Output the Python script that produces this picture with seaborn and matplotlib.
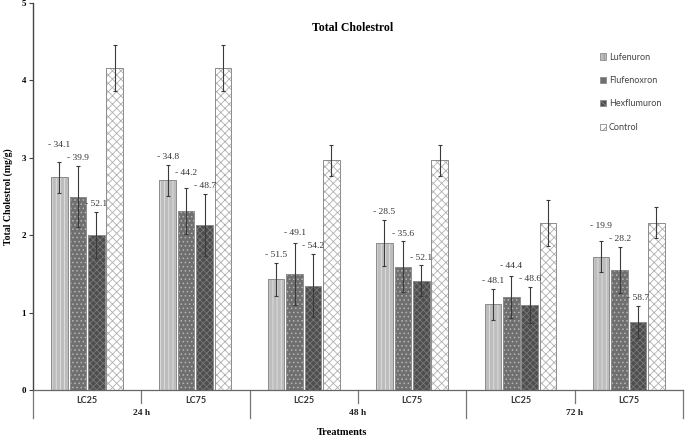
import matplotlib
matplotlib.use('Agg')
import matplotlib.pyplot as plt
import pandas as pd
import seaborn as sns
from matplotlib.patches import Rectangle

# Data
times = ['24 h', '24 h', '48 h', '48 h', '72 h', '72 h']
concs = ['LC25', 'LC75', 'LC25', 'LC75', 'LC25', 'LC75']
treatments = ['Lufenuron', 'Flufenoxron', 'Hexflumuron', 'Control']

lufenuron = [2.75, 2.71, 1.43, 1.90, 1.11, 1.72]
lufenuron_err = [0.20, 0.20, 0.21, 0.30, 0.20, 0.20]
flufenoxron = [2.50, 2.31, 1.50, 1.59, 1.20, 1.55]
flufenoxron_err = [0.40, 0.30, 0.40, 0.33, 0.27, 0.30]
hexflumuron = [2.00, 2.13, 1.35, 1.41, 1.10, 0.88]
hexflumuron_err = [0.30, 0.40, 0.41, 0.20, 0.23, 0.21]
control = [4.16, 4.16, 2.97, 2.97, 2.16, 2.16]
control_err = [0.30, 0.30, 0.20, 0.20, 0.30, 0.20]

# percent change vs control
lufenuron_change = [-34.1, -34.8, -51.5, -28.5, -48.1, -19.9]
flufenoxron_change = [-39.9, -44.2, -49.1, -35.6, -44.4, -28.2]
hexflumuron_change = [-52.1, -48.7, -54.2, -52.1, -48.6, -58.7]

groups = [t + ' ' + c for t, c in zip(times, concs)]
values = [lufenuron, flufenoxron, hexflumuron, control]
errors = [lufenuron_err, flufenoxron_err, hexflumuron_err, control_err]
changes = [lufenuron_change, flufenoxron_change, hexflumuron_change]

rows = []
for name, vals in zip(treatments, values):
    for g, v in zip(groups, vals):
        rows.append({'group': g, 'treatment': name, 'value': v})
df = pd.DataFrame(rows)

# face colour, hatch, hatch colour
styles = {
    'Lufenuron': ('#bdbdbd', '||||', '#e2e2e2'),
    'Flufenoxron': ('#6f6f6f', '....', '#b5b5b5'),
    'Hexflumuron': ('#4e4e4e', 'xxxxx', '#7a7a7a'),
    'Control': ('#ffffff', 'xxxx', '#b0b0b0'),
}

plt.rcParams['hatch.linewidth'] = 0.6
serif = 'Liberation Serif'

fig = plt.figure(figsize=(6.85, 4.38), dpi=100)
ax = fig.add_axes([0.048, 0.1096, 0.949, 0.8835])

sns.barplot(data=df, x='group', y='value', hue='treatment', order=groups,
            hue_order=treatments, width=0.68, gap=0.1, errorbar=None,
            palette=[styles[t][0] for t in treatments], ax=ax, legend=False)

bar_sets = list(ax.containers)
for cont, name, errs in zip(bar_sets, treatments, errors):
    face, hatch, hcol = styles[name]
    for i, p in enumerate(cont.patches):
        p.set_facecolor(face)
        p.set_hatch(hatch)
        p.set_edgecolor(hcol)
        p.set_linewidth(0)
        ax.add_patch(Rectangle(p.get_xy(), p.get_width(), p.get_height(),
                               fill=False, ec='#8c8c8c', lw=0.7))
        xc = p.get_x() + p.get_width() / 2
        ax.errorbar(xc, p.get_height(), yerr=errs[i], fmt='none',
                    ecolor='#3a3a3a', elinewidth=0.8, capsize=1.5,
                    capthick=0.8)

# % change labels, stacked so neighbours in a group don't collide
for i in range(len(groups)):
    prev = None
    for j in [2, 1, 0]:
        p = bar_sets[j].patches[i]
        y = p.get_height() + errors[j][i] + 0.1
        if prev is not None and abs(y - prev) < 0.15:
            y = prev + 0.17 if y >= prev else prev - 0.15
        prev = y
        ax.text(p.get_x() + p.get_width() / 2, y,
                '- %.1f' % abs(changes[j][i]), ha='center', va='center',
                fontsize=6.8, family=serif, color='#333333')

ax.set_xlim(-0.5, 5.5)
ax.set_ylim(0, 5)
ax.set_yticks([0, 1, 2, 3, 4, 5])
ax.set_yticklabels(['0', '1', '2', '3', '4', '5'], fontsize=6.5,
                   fontweight='bold', family=serif)
ax.tick_params(axis='y', length=3, width=0.8, color='#444444', pad=2)
ax.tick_params(axis='x', length=0, labelbottom=False)
ax.set_xlabel('')
ax.set_ylabel('')
for s in ['top', 'right']:
    ax.spines[s].set_visible(False)
ax.spines['left'].set_color('#444444')
ax.spines['bottom'].set_color('#666666')
ax.spines['left'].set_linewidth(1.0)
ax.spines['bottom'].set_linewidth(0.9)

# two-level category axis
tr = ax.get_xaxis_transform()
for k in range(7):
    x = k - 0.5
    low = -0.072 if k % 2 == 0 else -0.034
    ax.plot([x, x], [0, low], transform=tr, color='#777777', lw=0.9,
            clip_on=False)
for k, c in enumerate(concs):
    ax.text(k, -0.026, c, transform=tr, ha='center', va='center',
            fontsize=6.5, fontweight='bold', family='Lato', color='#333333')
for k in range(0, 6, 2):
    ax.text(k + 0.5, -0.06, times[k], transform=tr, ha='center',
            va='center', fontsize=6.8, fontweight='bold', family=serif,
            color='#222222')

fig.text(0.5, 0.003, 'Treatments', ha='center', va='bottom', fontsize=7.5,
         fontweight='bold', family=serif)
fig.text(0.012, 0.55, 'Total Cholestrol (mg/g)', rotation=90, ha='center',
         va='center', fontsize=7, fontweight='bold', family=serif)
fig.text(0.515, 0.936, 'Total Cholestrol', ha='center', va='center',
         fontsize=8.5, fontweight='bold', family=serif)

# legend proxies: hatched square with a grey border
handles = []
for name in treatments:
    face, hatch, hcol = styles[name]
    handles.append(Rectangle((0, 0), 1, 1, fc=face, hatch=hatch[:2],
                             ec='#8c8c8c', lw=0.6))
leg = ax.legend(handles, treatments, loc='upper left',
                bbox_to_anchor=(0.86, 0.893), frameon=False,
                labelspacing=1.6, handlelength=0.7, handleheight=0.7,
                handletextpad=0.3, prop={'family': 'Lato', 'size': 6.5})
for t in leg.get_texts():
    t.set_color('#444444')

fig.savefig('out.png', dpi=100)
